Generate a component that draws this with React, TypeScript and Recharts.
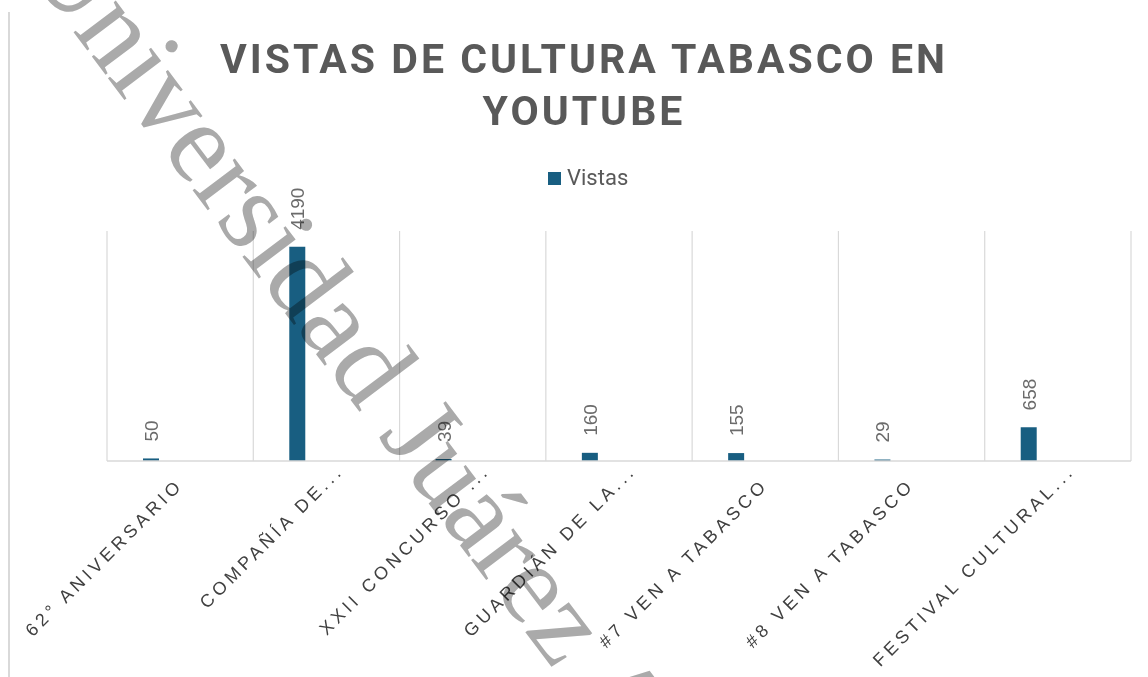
import React from "react";
import {
  BarChart,
  Bar,
  XAxis,
  YAxis,
  CartesianGrid,
  Legend,
  LabelList,
} from "recharts";

// categorias (etiquetas recortadas como en la grafica original)
const categorias = [
  "62° ANIVERSARIO",
  "COMPAÑÍA DE...",
  "XXII CONCURSO ...",
  "GUARDIÁN DE LA...",
  "#7 VEN A TABASCO",
  "#8 VEN A TABASCO",
  "FESTIVAL CULTURAL...",
];
const vistas = [50, 4190, 39, 160, 155, 29, 658];

const titulo = ["VISTAS DE CULTURA TABASCO EN", "YOUTUBE"];
const serieNombre = "Vistas";
const marcaAgua = "Universidad Juárez Autónoma de Tabasco";

const data = categorias.map((c, i) => ({ name: c, vistas: vistas[i] }));

const W = 1148;
const H = 677;
const AZUL = "#185e81";
const GRIS = "#d9d9d9";

const CategoryTick = ({ x, y, payload }: any) => {
  const label = String(payload.value);
  // Excel corre un poco las etiquetas truncadas
  const shift = label.endsWith("...") ? 20 : 0;
  const ax = x + 4 + shift * 0.707;
  const ay = y + 25 - shift * 0.707;
  return (
    <text
      x={ax}
      y={ay}
      transform={`rotate(-45, ${ax}, ${ay})`}
      textAnchor="end"
      fill="#404040"
      fontSize={18}
      letterSpacing={4}
      fontFamily="'Liberation Sans', Arial, sans-serif"
    >
      {label}
    </text>
  );
};

const ValueLabel = ({ x, y, width, value }: any) => {
  const lx = x + width / 2 + 7;
  const ly = y - 17;
  return (
    <text
      x={lx}
      y={ly}
      transform={`rotate(-90, ${lx}, ${ly})`}
      textAnchor="start"
      fill="#6b6b6b"
      fontSize={19}
      fontFamily="'Liberation Sans', Arial, sans-serif"
    >
      {value}
    </text>
  );
};

const LegendBox = () => (
  <div style={{ display: "flex", alignItems: "center" }}>
    <div style={{ width: 13, height: 13, background: AZUL, marginRight: 6 }} />
    <span
      style={{
        fontFamily: "Roboto, sans-serif",
        fontSize: 22,
        lineHeight: "22px",
        color: "#595959",
      }}
    >
      {serieNombre}
    </span>
  </div>
);

export default function App() {
  return (
    <div
      style={{
        position: "absolute",
        left: 0,
        top: 0,
        width: W,
        height: H,
        background: "#fff",
        overflow: "hidden",
      }}
    >
      <div
        style={{
          position: "absolute",
          left: 8,
          top: 12,
          width: 2,
          height: H - 12,
          background: GRIS,
        }}
      />
      <div
        style={{
          position: "absolute",
          left: 84,
          top: 33,
          width: 1000,
          textAlign: "center",
          fontFamily: "Roboto, sans-serif",
          fontWeight: 700,
          fontSize: 41,
          lineHeight: "52px",
          letterSpacing: 3,
          color: "#595959",
        }}
      >
        {titulo.map((t) => (
          <div key={t}>{t}</div>
        ))}
      </div>
      <BarChart
        width={W}
        height={H}
        data={data}
        margin={{ top: 231, right: 17, bottom: 0, left: 107 }}
        barSize={16}
        barGap={43}
        style={{ position: "absolute", left: 0, top: 0 }}
      >
        <CartesianGrid
          horizontal={false}
          stroke={GRIS}
          strokeWidth={1.2}
          verticalCoordinatesGenerator={({ offset }: any) =>
            categorias
              .map((_, i) => offset.left + (i * offset.width) / categorias.length)
              .concat(offset.left + offset.width)
          }
        />
        <XAxis
          dataKey="name"
          interval={0}
          height={216}
          tickLine={false}
          tickSize={0}
          tickMargin={0}
          axisLine={{ stroke: GRIS, strokeWidth: 1.5 }}
          tick={<CategoryTick />}
        />
        <YAxis hide domain={[0, 4500]} />
        <Legend
          layout="horizontal"
          verticalAlign="middle"
          align="center"
          wrapperStyle={{ top: 167, left: 548 }}
          content={<LegendBox />}
        />
        <Bar dataKey="vistas" name={serieNombre} fill={AZUL} isAnimationActive={false}>
          <LabelList dataKey="vistas" content={<ValueLabel />} />
        </Bar>
        <Bar dataKey="hueco" legendType="none" fill={AZUL} isAnimationActive={false} />
      </BarChart>
      <svg
        width={W}
        height={H}
        style={{
          position: "absolute",
          left: 0,
          top: 0,
          pointerEvents: "none",
          mixBlendMode: "multiply",
        }}
      >
        <text
          x={22}
          y={-36}
          transform="rotate(53, 22, -36)"
          fontSize={115}
          fontFamily="'Liberation Serif', 'DejaVu Serif', serif"
          fill="#aaaaaa"
        >
          {marcaAgua}
        </text>
      </svg>
    </div>
  );
}
